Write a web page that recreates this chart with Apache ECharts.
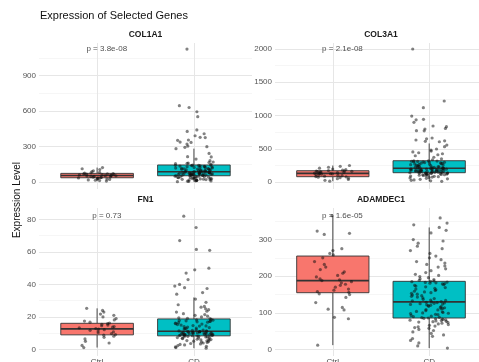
<!DOCTYPE html>
<html><head><meta charset="utf-8">
<script src="https://cdn.jsdelivr.net/npm/echarts@6/dist/echarts.min.js"></script>
<style>html,body{margin:0;padding:0;background:#fff}#c{width:479px;height:362px}</style>
</head><body><div id="c"></div><script>
// ---------- DATA ----------
const chartTitle = 'Expression of Selected Genes';
const yTitle = 'Expression Level';
const genes = ['COL1A1', 'COL3A1', 'FN1', 'ADAMDEC1'];
const groups = ['Ctrl', 'CD'];
const pLabels = ['p = 3.8e-08', 'p = 2.1e-08', 'p = 0.73', 'p = 1.6e-05'];

const col1a1Ticks = [0, 300, 600, 900];
const col3a1Ticks = [0, 500, 1000, 1500, 2000];
const fn1Ticks = [0, 20, 40, 60, 80];
const adamdec1Ticks = [0, 100, 200, 300];
const col1a1Minor = [150, 450, 750, 1050];
const col3a1Minor = [250, 750, 1250, 1750];
const fn1Minor = [10, 30, 50, 70];
const adamdec1Minor = [50, 150, 250, 350];

// box stats: [lower whisker, Q1, median, Q3, upper whisker]
const col1a1CtrlBox = [8, 36, 55, 73, 122];
const col1a1CDBox = [3, 53, 87, 144, 282];
const col3a1CtrlBox = [12, 80, 130, 170, 248];
const col3a1CDBox = [10, 140, 206, 320, 580];
const fn1CtrlBox = [1.2, 9.0, 12.7, 16.1, 25.3];
const fn1CDBox = [0.8, 8.4, 11.2, 18.8, 32];
const adamdec1CtrlBox = [12, 155, 188, 255, 365];
const adamdec1CDBox = [4, 86, 130, 186, 333];

const col1a1Ctrl = [8,12,15,18,22,25,28,30,33,35,37,39,41,44,46,48,50,52,54,56,58,60,62,64,66,68,70,72,75,78,82,88,95,105,112,122];
const col1a1CD = [3,5,7,9,10,12,14,15,17,18,20,21,23,24,26,27,29,30,32,33,35,36,38,39,41,42,44,45,47,49,50,52,
  54,55,56,57,58,59,60,61,62,63,64,65,66,67,68,69,70,71,72,73,74,75,76,77,78,79,80,81,82,83,84,85,86,
  88,90,92,93,95,97,98,100,102,104,105,107,109,110,112,114,116,118,120,121,123,125,127,129,131,133,135,137,139,140,141,142,143,
  150,155,158,160,165,169,180,194,212,214,242,282,293,299,304,321,335,338,352,355,376,378,391,408,428,440,552,594,630,645,1124];
const col3a1Ctrl = [12,25,38,50,58,65,72,78,82,88,95,100,106,112,118,122,126,130,133,137,141,145,149,153,157,161,165,168,172,178,186,195,208,222,236,248];
const col3a1CD = [10,18,25,32,40,48,55,62,68,74,80,85,90,94,98,102,105,108,111,114,117,119,121,123,125,127,129,131,133,135,137,139,
  141,143,145,147,149,151,153,155,157,159,161,163,165,167,169,171,173,175,177,179,181,183,185,187,189,191,193,195,197,199,201,203,205,
  208,211,214,217,220,223,226,229,232,236,240,244,248,252,256,260,264,268,272,276,280,284,288,292,296,300,303,306,309,312,315,317,319,
  335,350,372,395,410,425,440,452,465,480,496,531,556,605,612,620,632,650,662,770,772,797,805,832,842,897,935,942,992,1117,1218,2000];
const fn1Ctrl = [1.2,2.5,4,5,6.5,7.5,8.2,8.8,9.2,9.8,10.3,10.8,11.3,11.8,12.2,12.6,12.9,13.3,13.7,14.1,14.6,15,15.5,15.9,16.3,16.8,17.5,18.2,19,20,21,21.8,23,24,25.3];
const fn1CD = [0.8,1.2,1.6,2,2.4,2.8,3.1,3.4,3.7,4,4.3,4.6,4.9,5.1,5.3,5.5,5.7,5.9,6.1,6.3,6.5,6.7,6.9,7.1,7.3,7.5,7.7,7.8,7.9,8.1,8.2,8.3,
  8.5,8.55,8.6,8.7,8.8,8.9,9,9.1,9.2,9.3,9.4,9.45,9.5,9.6,9.7,9.8,9.9,10,10.1,10.2,10.3,10.35,10.4,10.5,10.6,10.7,10.8,10.9,11,11.1,11.2,
  11.4,11.5,11.7,12,12.3,12.6,12.9,13,13.2,13.5,13.8,14.1,14.4,14.5,14.7,15,15.3,15.6,15.9,16.2,16.5,16.8,17,17.2,17.4,17.6,17.8,18,18.2,18.5,
  19,19.2,19.5,20,20.5,21,21.5,22,23,23.5,24.5,25,26,26.5,27.5,29,31,34,35,37.5,38,39,40,43,47,49,50,61,61.5,67,75,82];
const adamdec1Ctrl = [12,84,88,108,110,115,128,142,150,152,156,158,162,165,170,175,178,182,185,188,190,193,198,202,208,212,218,225,232,240,250,258,262,270,275,314,317,323,365];
const adamdec1CD = [4,10,18,25,30,36,40,44,48,52,55,58,60,62,64,66,68,70,72,74,75,76,77,78,79,80,81,82,83,84,85,86,
  87,88,90,91,93,95,96,98,99,100,101,103,104,106,108,109,111,112,114,115,117,118,120,121,122,123,124,125,126,127,128,129,130,
  131,133,134,135,137,139,141,143,145,147,149,151,153,155,157,159,161,163,165,167,169,171,173,175,177,179,180,181,182,183,184,185,186,
  187,189,191,193,196,199,202,205,210,215,220,225,228,232,236,240,245,250,255,262,270,275,282,290,296,300,318,325,333,340,345,359];

// ---------- LAYOUT ----------
const panelData = [
  {ticks: col1a1Ticks, minor: col1a1Minor, boxes: [col1a1CtrlBox, col1a1CDBox], pts: [col1a1Ctrl, col1a1CD]},
  {ticks: col3a1Ticks, minor: col3a1Minor, boxes: [col3a1CtrlBox, col3a1CDBox], pts: [col3a1Ctrl, col3a1CD]},
  {ticks: fn1Ticks, minor: fn1Minor, boxes: [fn1CtrlBox, fn1CDBox], pts: [fn1Ctrl, fn1CD]},
  {ticks: adamdec1Ticks, minor: adamdec1Minor, boxes: [adamdec1CtrlBox, adamdec1CDBox], pts: [adamdec1Ctrl, adamdec1CD]}
];
const layout = [
  {left: 39, top: 43, width: 213, height: 146, ymin: -59, ymax: 1175, showX: false},
  {left: 275, top: 43, width: 212, height: 146, ymin: -105, ymax: 2090, showX: false},
  {left: 39, top: 208, width: 213, height: 148, ymin: -4, ymax: 87, showX: true},
  {left: 275, top: 208, width: 212, height: 148, ymin: -17.6, ymax: 386, showX: true}
];
const FONT = '"Liberation Sans", Arial, sans-serif';
const fills = ['#F8766D', '#00BFC4'];
// deterministic horizontal jitter (position only, not a data value)
function jit(i, s) {
  const h = Math.sin(i * 12.9898 + s * 78.233) * 43758.5453;
  return ((h - Math.floor(h)) - 0.5) * 0.4;
}

const grid = [], xAxis = [], yAxis = [], series = [], graphic = [];
layout.forEach((L, k) => {
  const P = panelData[k];
  grid.push({left: L.left, top: L.top, width: L.width, height: L.height, containLabel: false, outerBoundsMode: 'none'});
  xAxis.push({
    type: 'value', gridIndex: k, min: 0.4, max: 2.6,
    axisLine: {show: false}, axisTick: {show: false}, splitLine: {show: false},
    axisLabel: {show: L.showX, customValues: [1, 2], margin: 2, color: '#4d4d4d', fontSize: 8, fontFamily: FONT,
      formatter: v => (v === 1 ? groups[0] : v === 2 ? groups[1] : '')}
  });
  yAxis.push({
    type: 'value', gridIndex: k, min: L.ymin, max: L.ymax,
    axisLine: {show: false}, axisTick: {show: false}, splitLine: {show: false},
    axisLabel: {customValues: P.ticks, margin: 3, color: '#555', fontSize: 8, fontFamily: FONT,
      formatter: v => String(v)}
  });
  const gl = [];
  P.minor.forEach(v => gl.push({yAxis: v, lineStyle: {color: '#f0f0f0', width: 0.6, type: 'solid'}}));
  P.ticks.forEach(v => gl.push({yAxis: v, lineStyle: {color: '#e6e6e6', width: 1, type: 'solid'}}));
  [1, 2].forEach(v => gl.push({xAxis: v, lineStyle: {color: '#e6e6e6', width: 1, type: 'solid'}}));
  series.push({
    type: 'line', xAxisIndex: k, yAxisIndex: k, data: [[1, 0]], showSymbol: false, symbolSize: 0,
    lineStyle: {opacity: 0}, zlevel: 0, z: 1, silent: true,
    markLine: {silent: true, symbol: ['none', 'none'], label: {show: false}, animation: false,
      lineStyle: {type: 'solid'}, data: gl}
  });
  series.push({
    type: 'custom', xAxisIndex: k, yAxisIndex: k, zlevel: 1, z: 2, silent: true,
    data: P.boxes.map((b, g) => [g + 1].concat(b)),
    renderItem: (params, api) => {
      const x = api.value(0), lo = api.value(1), q1 = api.value(2), md = api.value(3), q3 = api.value(4), hi = api.value(5);
      const g = x - 1;
      const a = api.coord([x - 0.375, q3]), b = api.coord([x + 0.375, q1]);
      const m1 = api.coord([x - 0.375, md]), m2 = api.coord([x + 0.375, md]);
      const w1 = api.coord([x, hi]), w2 = api.coord([x, q3]), w3 = api.coord([x, q1]), w4 = api.coord([x, lo]);
      const st = {stroke: '#333', lineWidth: 0.9};
      return {type: 'group', children: [
        {type: 'line', shape: {x1: w1[0], y1: w1[1], x2: w2[0], y2: w2[1]}, style: st},
        {type: 'line', shape: {x1: w3[0], y1: w3[1], x2: w4[0], y2: w4[1]}, style: st},
        {type: 'rect', shape: {x: a[0], y: a[1], width: b[0] - a[0], height: b[1] - a[1]},
          style: {fill: fills[g], stroke: '#333', lineWidth: 0.9}},
        {type: 'line', shape: {x1: m1[0], y1: m1[1], x2: m2[0], y2: m2[1]}, style: {stroke: '#333', lineWidth: 1.6}}
      ]};
    }
  });
  P.pts.forEach((arr, g) => {
    series.push({
      type: 'scatter', xAxisIndex: k, yAxisIndex: k, zlevel: 1, z: 3, silent: true, symbolSize: 3.2,
      itemStyle: {color: 'rgba(15,15,15,0.65)'},
      data: arr.map((v, i) => [g + 1 + jit(i + 1, k * 2 + g + 1), v])
    });
  });
  const ymax = Math.max(...P.pts[0], ...P.pts[1]);
  series.push({
    type: 'scatter', xAxisIndex: k, yAxisIndex: k, zlevel: 1, z: 4, silent: true, symbolSize: 0,
    data: [[1.1, ymax]],
    label: {show: true, position: 'inside', formatter: () => pLabels[k], color: '#222', fontSize: 8, fontFamily: FONT}
  });
  graphic.push({type: 'text', x: L.left + L.width / 2, y: L.top - 8, zlevel: 1,
    style: {text: genes[k], fontSize: 8.5, fontWeight: 'bold', fill: '#1a1a1a', fontFamily: FONT, textAlign: 'center', textVerticalAlign: 'middle'}});
});
graphic.push({type: 'text', x: 40, y: 16, zlevel: 1,
  style: {text: chartTitle, fontSize: 11, fill: '#111', fontFamily: FONT, textAlign: 'left', textVerticalAlign: 'middle'}});
graphic.push({type: 'text', x: 17, y: 200, rotation: Math.PI / 2, zlevel: 1,
  style: {text: yTitle, fontSize: 10, fill: '#111', fontFamily: FONT, textAlign: 'center', textVerticalAlign: 'middle'}});

const chart = echarts.init(document.getElementById('c'), null, {renderer: 'canvas'});
chart.setOption({animation: false, backgroundColor: '#fff', grid, xAxis, yAxis, series, graphic});
</script></body></html>
